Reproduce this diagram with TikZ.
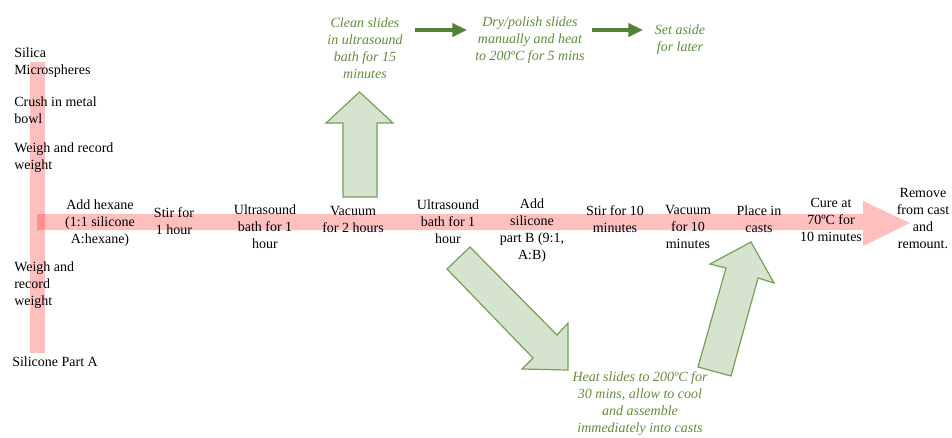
\documentclass[tikz,border=0pt]{standalone}
\usepackage{fontspec}
\setmainfont{Liberation Serif}
\usetikzlibrary{arrows.meta}
\definecolor{gtext}{RGB}{96,140,58}
\definecolor{garrow}{RGB}{84,130,53}
\definecolor{bfill}{RGB}{213,227,207}
\definecolor{bline}{RGB}{118,160,86}
\begin{document}
\begin{tikzpicture}[x=0.75pt,y=-0.75pt,
  lbl/.style={font=\fontsize{10.5}{12.75}\selectfont, align=center, inner sep=0pt},
  lleft/.style={lbl, align=left, anchor=west},
  gl/.style={lbl, text=gtext, font=\fontsize{10.5}{12.75}\selectfont\itshape},
  blockarrow/.style={fill=bfill, draw=bline, line width=0.9pt, line join=miter},
  pinkshape/.style={fill=red, fill opacity=0.25, draw=none},
  garr/.style={draw=garrow, line width=2.3pt, -{Triangle[length=11pt,width=10pt]}}]
\useasboundingbox (0,0) rectangle (952,437);

% pink bars
\fill[pinkshape] (30,62) rectangle (45,353);
\fill[pinkshape] (37,214) -- (863,214) -- (863,201) -- (910,223) -- (863,246) -- (863,230) -- (37,230) -- cycle;

% block arrows
\draw[blockarrow] (343,197) -- (343,123) -- (326,123) -- (359.5,92) -- (393,123) -- (377,123) -- (377,197) -- cycle;
\draw[blockarrow] (447,269) -- (533,358) -- (522,369) -- (568,370) -- (568,323) -- (557,335) -- (470,247) -- cycle;
\draw[blockarrow] (698,367) -- (726,268) -- (710,264) -- (751,242) -- (774,283) -- (758,278) -- (731,376) -- cycle;

% left column
\node[lleft] (silica) at (14,62.5) {Silica\\Microspheres};
\node[lleft] (crush) at (14,110) {Crush in metal\\bowl};
\node[lleft] (weigh1) at (14,158) {Weigh and record\\weight};
\node[lleft] (weigh2) at (14,285) {Weigh and\\record\\weight};
\node[lleft] (partA) at (12,362) {Silicone Part A};

% main row
\node[lbl] (hexane) at (100,223) {Add hexane\\(1:1 silicone\\A:hexane)};
\node[lbl] (stir1) at (174,221) {Stir for\\1 hour};
\node[lbl] (ultra1) at (265,227) {Ultrasound\\bath for 1\\hour};
\node[lbl] (vac1) at (353,219) {Vacuum\\for 2 hours};
\node[lbl] (ultra2) at (448,222) {Ultrasound\\bath for 1\\hour};
\node[lbl] (partB) at (532,230.5) {Add\\silicone\\part B (9:1,\\A:B)};
\node[lbl] (stir2) at (615,219) {Stir for 10\\minutes};
\node[lbl] (vac2) at (688,227) {Vacuum\\for 10\\minutes};
\node[lbl] (place) at (759,219) {Place in\\casts};
\node[lbl] (cure) at (831,220) {Cure at\\70ºC for\\10 minutes};
\node[lbl] (remove) at (923,218.5) {Remove\\from cast\\and\\remount.};

% green texts
\node[gl] (clean) at (365,48.5) {Clean slides\\in ultrasound\\bath for 15\\minutes};
\node[gl] (dry) at (530,40) {Dry/polish slides\\manually and heat\\to 200ºC for 5 mins};
\node[gl] (aside) at (680,39.5) {Set aside\\for later};
\node[gl] (heat) at (640,404) {Heat slides to 200ºC for\\30 mins, allow to cool\\and assemble\\immediately into casts};

\coordinate (g1s) at (415,30);
\coordinate (g1e) at (467,30);
\coordinate (g2s) at (592,30);
\coordinate (g2e) at (643,30);
\draw[garr] (g1s) -- (g1e);
\draw[garr] (g2s) -- (g2e);
\end{tikzpicture}
\end{document}
